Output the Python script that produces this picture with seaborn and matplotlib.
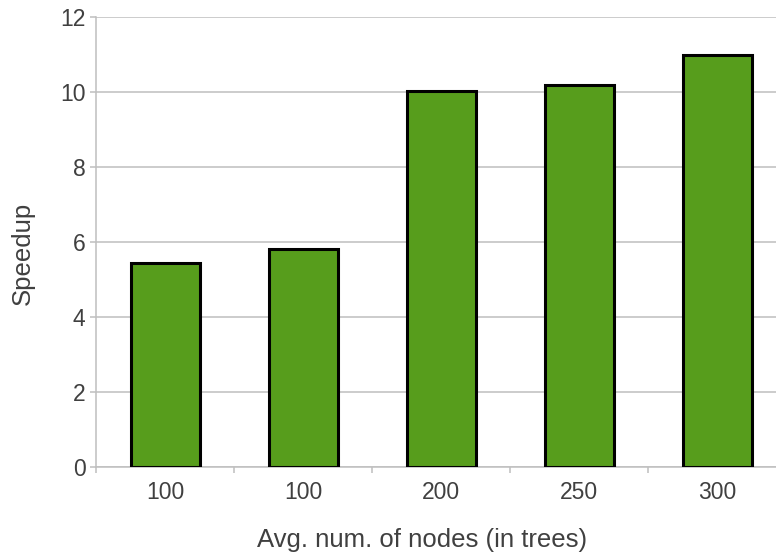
import matplotlib
matplotlib.use("Agg")
import matplotlib.pyplot as plt
import seaborn as sns
import pandas as pd
import numpy as np

# Average number of nodes per tree for each benchmark group and the speedup obtained
node_labels = ["100", "100", "200", "250", "300"]
speedup = [5.45, 5.82, 10.03, 10.2, 11.0]

df = pd.DataFrame({"group": list(range(len(node_labels))), "speedup": speedup})

sns.set_style("white")
plt.rcParams["font.family"] = ["Liberation Sans", "DejaVu Sans"]

text_color = "#404040"
grid_color = "#bfbfbf"

fig = plt.figure(figsize=(7.76, 5.56), dpi=100)
ax = fig.add_axes([96 / 776, 89 / 556, 690 / 776, 450 / 556])

sns.barplot(data=df, x="group", y="speedup", color="#579d1c", saturation=1,
            width=0.5, edgecolor="black", linewidth=2.2, ax=ax, zorder=3)

ax.set_xlim(-0.5, len(node_labels) - 0.5)
ax.set_ylim(0, 12)
ax.set_yticks(np.arange(0, 13, 2))
ax.yaxis.grid(True, color=grid_color, linewidth=1.1, zorder=0)
ax.set_axisbelow(True)

ax.set_xticks(range(len(node_labels)))
ax.set_xticklabels(node_labels)
ax.set_xticks(np.arange(-0.5, len(node_labels), 1.0), minor=True)
ax.tick_params(axis="x", which="major", bottom=False, length=0, pad=10,
               labelsize=16.5, labelcolor=text_color)
ax.tick_params(axis="x", which="minor", bottom=True, length=4, width=1.1, color=grid_color)
ax.tick_params(axis="y", left=True, length=4, width=1.1, color=grid_color, pad=3.5,
               labelsize=16.5, labelcolor=text_color)

for side in ["top", "right"]:
    ax.spines[side].set_visible(False)
for side in ["left", "bottom"]:
    ax.spines[side].set_color(grid_color)
    ax.spines[side].set_linewidth(1.1)

ax.set_xlabel("Avg. num. of nodes (in trees)", fontsize=18.5, color=text_color)
ax.set_ylabel("Speedup", fontsize=18.5, color=text_color)
ax.xaxis.set_label_coords(0.4725, -0.162)
ax.yaxis.set_label_coords(-0.106, 0.4756)
ax.xaxis.label.set_verticalalignment("center")
ax.yaxis.label.set_verticalalignment("center")

fig.savefig("out.png", dpi=100)
